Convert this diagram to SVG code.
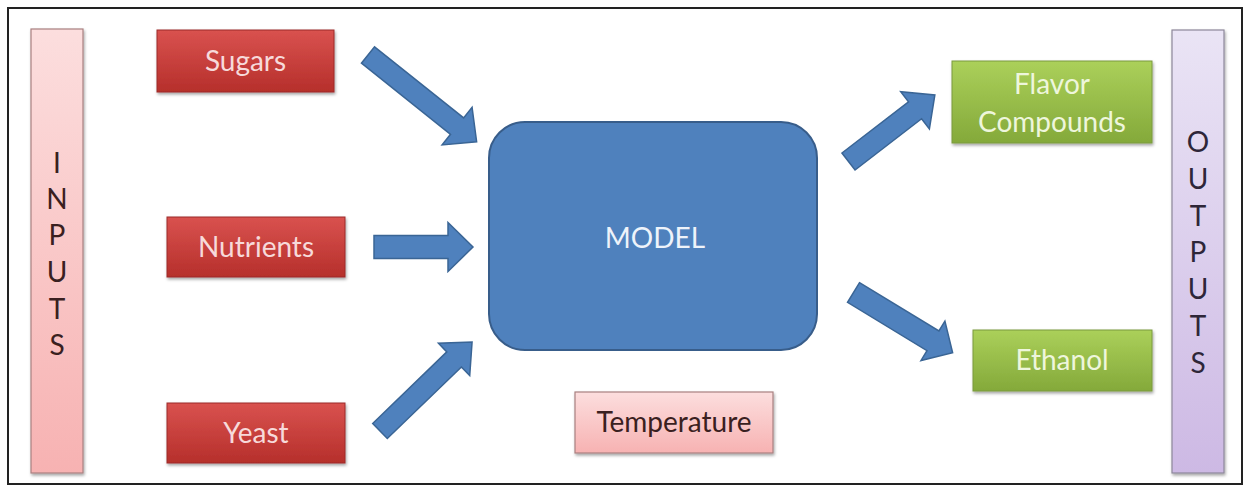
<svg xmlns="http://www.w3.org/2000/svg" width="1249" height="485" viewBox="0 0 1249 485">
<defs>
<linearGradient id="gRed" x1="0" y1="0" x2="0" y2="1"><stop offset="0" stop-color="#D9524F"/><stop offset="1" stop-color="#B62F2B"/></linearGradient>
<linearGradient id="gGreen" x1="0" y1="0" x2="0" y2="1"><stop offset="0" stop-color="#ABD05A"/><stop offset="1" stop-color="#84A93A"/></linearGradient>
<linearGradient id="gPink" x1="0" y1="0" x2="0" y2="1"><stop offset="0" stop-color="#FCDEDE"/><stop offset="1" stop-color="#F7B2B2"/></linearGradient>
<linearGradient id="gPurple" x1="0" y1="0" x2="0" y2="1"><stop offset="0" stop-color="#EAE4F5"/><stop offset="1" stop-color="#CDB9E4"/></linearGradient>
<filter id="sh" x="-10%" y="-10%" width="125%" height="130%"><feDropShadow dx="1" dy="2" stdDeviation="1.5" flood-color="#000" flood-opacity="0.35"/></filter>
<polygon id="arrowShape" points="0,0"/>
</defs>
<style>
.lbl{font-family:Lato,"Open Sans","Liberation Sans",sans-serif;font-size:28px;text-anchor:middle}
.red{fill:url(#gRed);stroke:#9C2B28;stroke-width:1}
.green{fill:url(#gGreen);stroke:#7A9A3E;stroke-width:1}
.pink{fill:url(#gPink);stroke:#A98080;stroke-width:1.2}
.purple{fill:url(#gPurple);stroke:#8D8799;stroke-width:1.2}
.light{fill:#F7DADA}
.lightg{fill:#EEF6DC}
.dark{fill:#3A2020}
.darkp{fill:#2E2638}
.arrow{fill:#4F81BD;stroke:#3A6595;stroke-width:1.5;stroke-linejoin:miter}
</style>
<rect x="8" y="8" width="1234" height="476" fill="#FFFFFF" stroke="#222222" stroke-width="2"/>

<g id="inputs">
<rect class="pink" x="31" y="29" width="52" height="444" filter="url(#sh)"/>
<g class="lbl dark">
<text x="57" y="173">I</text>
<text x="57" y="209">N</text>
<text x="57" y="245">P</text>
<text x="57" y="282">U</text>
<text x="57" y="319">T</text>
<text x="57" y="355">S</text>
</g>
</g>

<g id="outputs">
<rect class="purple" x="1172" y="30" width="52" height="443" filter="url(#sh)"/>
<g class="lbl darkp">
<text x="1198" y="152">O</text>
<text x="1198" y="189">U</text>
<text x="1198" y="226">T</text>
<text x="1198" y="262">P</text>
<text x="1198" y="299">U</text>
<text x="1198" y="336">T</text>
<text x="1198" y="373">S</text>
</g>
</g>

<g id="sugars">
<rect class="red" x="157" y="30" width="177" height="62" filter="url(#sh)"/>
<text class="lbl light" x="245.5" y="71">Sugars</text>
</g>
<g id="nutrients">
<rect class="red" x="167" y="217" width="178" height="60" filter="url(#sh)"/>
<text class="lbl light" x="256" y="257">Nutrients</text>
</g>
<g id="yeast">
<rect class="red" x="167" y="403" width="178" height="60" filter="url(#sh)"/>
<text class="lbl light" x="256" y="443">Yeast</text>
</g>

<g id="model">
<rect x="489" y="122" width="328" height="228" rx="36" ry="36" fill="#4F81BD" stroke="#385D8A" stroke-width="2"/>
<text class="lbl" x="655" y="248" fill="#EEF3FA">MODEL</text>
</g>

<g id="temperature">
<rect class="pink" x="575" y="392" width="198" height="61" filter="url(#sh)"/>
<text class="lbl dark" x="674" y="432">Temperature</text>
</g>

<g id="flavor">
<rect class="green" x="952" y="61" width="200" height="82" filter="url(#sh)"/>
<text class="lbl lightg" x="1052" y="94">Flavor</text>
<text class="lbl lightg" x="1052" y="132">Compounds</text>
</g>
<g id="ethanol">
<rect class="green" x="973" y="330" width="179" height="61" filter="url(#sh)"/>
<text class="lbl lightg" x="1062" y="370">Ethanol</text>
</g>

<g id="connectors">
<polygon class="arrow" transform="translate(368,55) rotate(38.6)" points="0,-10.5 114,-10.5 114,-24 139,0 114,24 114,10.5 0,10.5"/>
<polygon class="arrow" transform="translate(374,247)" points="0,-11.5 74,-11.5 74,-24.5 99,0 74,24.5 74,11.5 0,11.5"/>
<polygon class="arrow" transform="translate(380,431) rotate(-44)" points="0,-10.5 103,-10.5 103,-22.5 128,0 103,22.5 103,10.5 0,10.5"/>
<polygon class="arrow" transform="translate(848.5,161.5) rotate(-37.6)" points="0,-10.7 84,-10.7 84,-23.5 109,0 84,23.5 84,10.7 0,10.7"/>
<polygon class="arrow" transform="translate(853.5,292.5) rotate(31.3)" points="0,-11.5 93,-11.5 93,-23 116,0 93,23 93,11.5 0,11.5"/>
</g>
</svg>
